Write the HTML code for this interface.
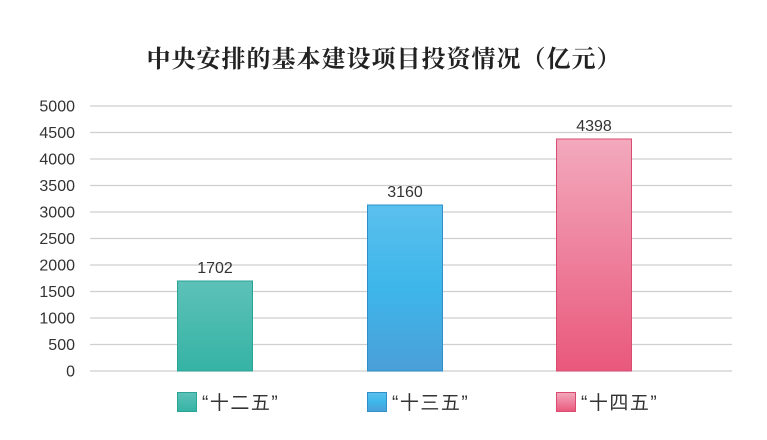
<!DOCTYPE html>
<html><head><meta charset="utf-8"><style>
body{margin:0;background:#fff;}
svg text{font-family:"Liberation Sans","Noto Sans CJK SC",sans-serif;}
</style></head><body>
<svg width="767" height="435" viewBox="0 0 767 435" xmlns="http://www.w3.org/2000/svg">
<defs>
<linearGradient id="g1" x1="0" y1="0" x2="0" y2="1"><stop offset="0" stop-color="#5dc1b9"/><stop offset="1" stop-color="#35b3a4"/></linearGradient>
<linearGradient id="g2" x1="0" y1="0" x2="0" y2="1"><stop offset="0" stop-color="#5bc0ee"/><stop offset="0.5" stop-color="#3db6ea"/><stop offset="1" stop-color="#4b9fd8"/></linearGradient>
<linearGradient id="g3" x1="0" y1="0" x2="0" y2="1"><stop offset="0" stop-color="#f3a9bd"/><stop offset="1" stop-color="#e9587c"/></linearGradient>
</defs>
<rect width="767" height="435" fill="#fff"/>
<text x="384" y="67" text-anchor="middle" font-size="24" font-weight="bold" fill="#222" letter-spacing="1" style="font-family:'Noto Serif CJK SC',serif">中央安排的基本建设项目投资情况（亿元）</text>
<g stroke="#cfcfcf" stroke-width="1.2">
<line x1="90" x2="732" y1="106" y2="106"/><line x1="90" x2="732" y1="132.5" y2="132.5"/><line x1="90" x2="732" y1="159" y2="159"/><line x1="90" x2="732" y1="185.5" y2="185.5"/><line x1="90" x2="732" y1="212" y2="212"/><line x1="90" x2="732" y1="238.5" y2="238.5"/><line x1="90" x2="732" y1="265" y2="265"/><line x1="90" x2="732" y1="291.5" y2="291.5"/><line x1="90" x2="732" y1="318" y2="318"/><line x1="90" x2="732" y1="344.5" y2="344.5"/><line x1="90" x2="732" y1="371" y2="371"/>
</g>
<g font-size="16" fill="#333" text-anchor="end">
<text x="75" y="111.5">5000</text><text x="75" y="138">4500</text><text x="75" y="164.5">4000</text><text x="75" y="191">3500</text><text x="75" y="217.5">3000</text><text x="75" y="244">2500</text><text x="75" y="270.5">2000</text><text x="75" y="297">1500</text><text x="75" y="323.5">1000</text><text x="75" y="350">500</text><text x="75" y="376.5">0</text>
</g>
<rect x="177.5" y="281" width="75" height="90" fill="url(#g1)" stroke="#2aa395" stroke-width="1"/>
<rect x="367.5" y="205" width="75" height="166" fill="url(#g2)" stroke="#2e8fc9" stroke-width="1"/>
<rect x="556.5" y="139" width="75" height="232" fill="url(#g3)" stroke="#d84c72" stroke-width="1"/>
<g font-size="16" fill="#333" text-anchor="middle">
<text x="215" y="273">1702</text><text x="405" y="197">3160</text><text x="594" y="131">4398</text>
</g>
<rect x="177.5" y="392.5" width="19" height="19" fill="url(#g1)" stroke="#2aa395"/>
<rect x="367.5" y="392.5" width="19" height="19" fill="url(#g2)" stroke="#2e8fc9"/>
<rect x="556.5" y="392.5" width="19" height="19" fill="url(#g3)" stroke="#d84c72"/>
<g font-size="19" fill="#333" letter-spacing="1.5" style="font-family:'Noto Sans CJK SC',sans-serif">
<text x="202" y="409">“十二五”</text><text x="392" y="409">“十三五”</text><text x="581" y="409">“十四五”</text>
</g>
</svg>
</body></html>
